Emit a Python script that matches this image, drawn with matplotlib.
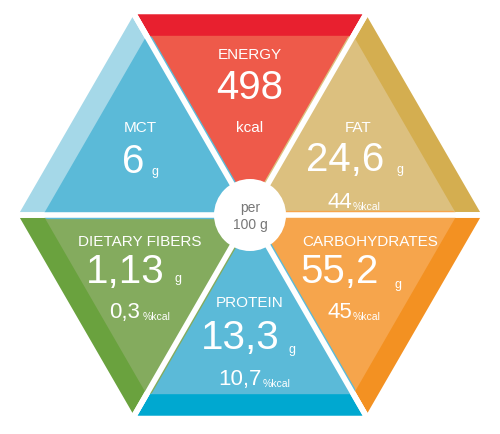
import numpy as np
import matplotlib
matplotlib.use("Agg")
import matplotlib.pyplot as plt
from matplotlib.patches import Polygon, Circle

plt.rcParams['font.family'] = ['Liberation Sans', 'DejaVu Sans']

names = ["ENERGY", "FAT", "CARBOHYDRATES", "PROTEIN", "DIETARY FIBERS", "MCT"]
values = ["498", "24,6", "55,2", "13,3", "1,13", "6"]
units = ["kcal", "g", "g", "g", "g", "g"]
pcts = ["", "44", "45", "10,7", "0,3", ""]
outer_cols = ["#E8202F", "#D4AE50", "#F39122", "#00A8D0", "#6AA23E", "#A5D8E8"]
inner_cols = ["#EE5A4A", "#DCC07F", "#F6A54C", "#5BBAD8", "#84AB5E", "#5BBAD8"]

fig = plt.figure(figsize=(5, 4.35), dpi=100)
ax = fig.add_axes([0, 0, 1, 1])
ax.set_xlim(0, 500); ax.set_ylim(435, 0); ax.axis('off')

cx, cy, R = 250, 216, 235
V = [(cx + R*np.cos(np.radians(60*k)), cy + R*np.sin(np.radians(60*k))) for k in range(6)]
pairs = [(4, 5), (5, 0), (0, 1), (1, 2), (2, 3), (3, 4)]
C = np.array([cx, cy])
for i, (a, b) in enumerate(pairs):
    pa, pb = np.array(V[a]), np.array(V[b])
    ax.add_patch(Polygon([C, pa, pb], closed=True, fc=outer_cols[i], ec='white', lw=4, joinstyle='round'))
    s = 0.86
    qa, qb = C + s*(pa - C), C + s*(pb - C)
    ax.add_patch(Polygon([C, qa, qb], closed=True, fc=inner_cols[i], ec=inner_cols[i], lw=6, joinstyle='round'))
    ax.plot([C[0], pa[0]], [C[1], pa[1]], color='white', lw=4, solid_capstyle='butt')
ax.add_patch(Circle((cx, cy), 36, fc='white', ec='none'))
ax.text(cx, 208, "per", ha='center', va='center', fontsize=10, color='#777777')
ax.text(cx, 225, "100 g", ha='center', va='center', fontsize=10, color='#777777')

w = dict(color='white', va='center')
# label positions, value pos, unit pos, pct pos, pctunit pos
L = [(250, 55), (358, 128), (370, 242), (250, 303), (140, 242), (140, 128)]
VP = [(250, 88), (345, 160), (340, 272), (240, 338), (125, 272), (133, 162)]
UP = [(250, 128), (400, 170), (398, 285), (292, 350), (178, 279), (155, 172)]
PP = [None, (340, 203), (340, 313), (240, 380), (125, 313), None]
for i in range(6):
    ax.text(*L[i], names[i], ha='center', fontsize=11, **w)
    ax.text(*VP[i], values[i], ha='center', fontsize=29, **w)
    ax.text(*UP[i], units[i], ha='center', fontsize=11 if i == 0 else 9, **w)
    if PP[i]:
        ax.text(PP[i][0], PP[i][1], pcts[i], ha='center', fontsize=16, **w)
        ax.text(PP[i][0] + 3 + 5*len(pcts[i]), PP[i][1] + 4, "%kcal", ha='left', fontsize=7.5, **w)

fig.savefig("out.png", dpi=100)
